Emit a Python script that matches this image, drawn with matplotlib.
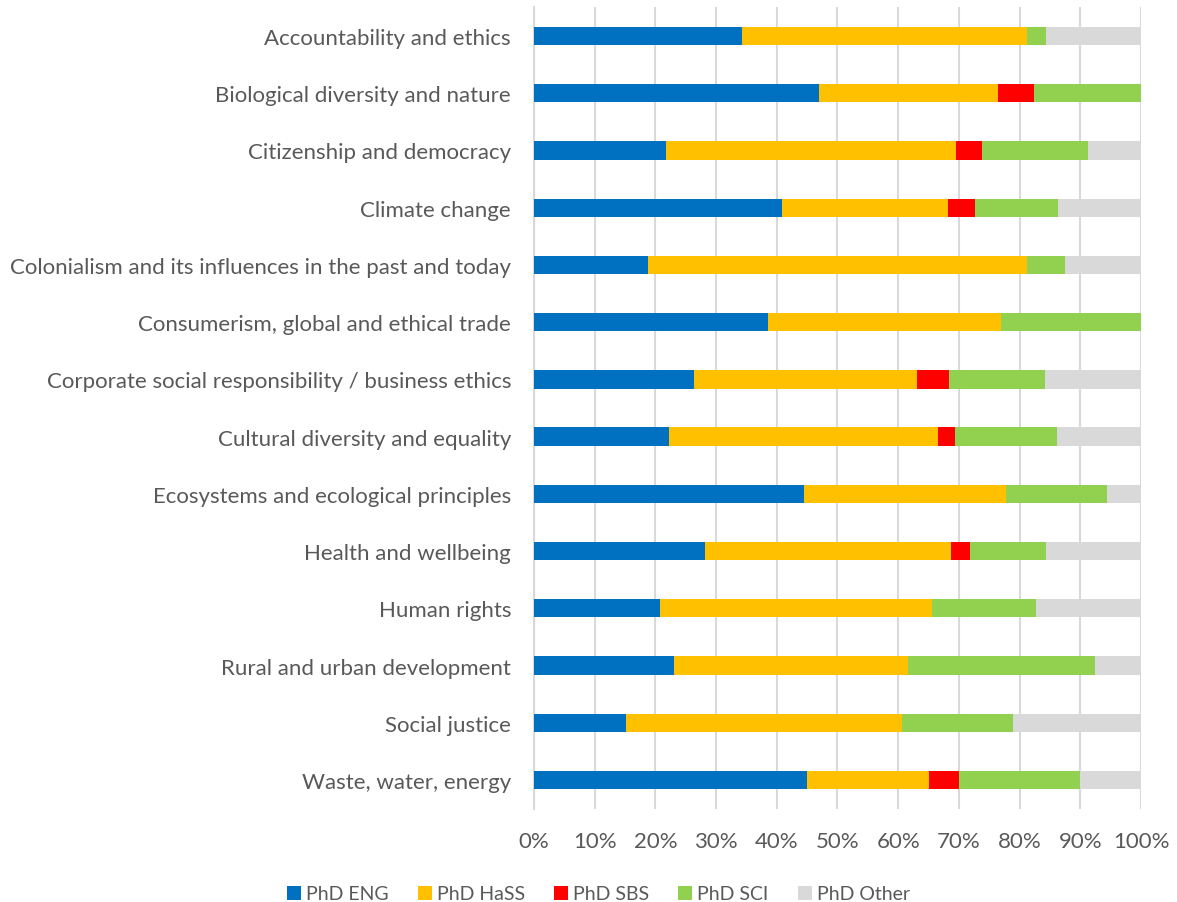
import matplotlib.pyplot as plt
from matplotlib.ticker import PercentFormatter
from matplotlib.patches import Patch

plt.rcParams['font.family'] = ['Lato', 'DejaVu Sans']

topics = [
    "Accountability and ethics",
    "Biological diversity and nature",
    "Citizenship and democracy",
    "Climate change",
    "Colonialism and its influences in the past and today",
    "Consumerism, global and ethical trade",
    "Corporate social responsibility / business ethics",
    "Cultural diversity and equality",
    "Ecosystems and ecological principles",
    "Health and wellbeing",
    "Human rights",
    "Rural and urban development",
    "Social justice",
    "Waste, water, energy",
]

# percentages per topic
phd_eng = [34.3, 47.0, 21.7, 40.9, 18.8, 38.5, 26.3, 22.2, 44.4, 28.1, 20.7, 23.1, 15.2, 45.0]
phd_hass = [47.0, 29.4, 47.8, 27.3, 62.5, 38.5, 36.8, 44.4, 33.3, 40.6, 44.8, 38.5, 45.5, 20.0]
phd_sbs = [0.0, 5.9, 4.3, 4.5, 0.0, 0.0, 5.3, 2.8, 0.0, 3.1, 0.0, 0.0, 0.0, 5.0]
phd_sci = [3.0, 17.7, 17.4, 13.6, 6.2, 23.0, 15.8, 16.7, 16.7, 12.5, 17.2, 30.8, 18.2, 20.0]
phd_other = [15.7, 0.0, 8.8, 13.7, 12.5, 0.0, 15.8, 13.9, 5.6, 15.7, 17.3, 7.6, 21.1, 10.0]

series = [
    ("PhD ENG", phd_eng, "#0070C0"),
    ("PhD HaSS", phd_hass, "#FFC000"),
    ("PhD SBS", phd_sbs, "#FF0000"),
    ("PhD SCI", phd_sci, "#92D050"),
    ("PhD Other", phd_other, "#D9D9D9"),
]

text_color = "#595959"
grid_color = "#D9D9D9"

fig = plt.figure(figsize=(11.77, 9.03), dpi=100)
ax = fig.add_axes([0.4537, 0.1034, 0.5157, 0.8873])

ypos = list(range(len(topics)))
left = [0.0] * len(topics)
for name, values, color in series:
    ax.barh(ypos, values, left=left, height=0.32, color=color, label=name, zorder=3)
    left = [a + b for a, b in zip(left, values)]

ax.set_xlim(0, 100)
ax.set_ylim(len(topics) - 0.5, -0.5)
ax.set_yticks(ypos)
ax.set_yticklabels(topics)
ax.set_xticks(range(0, 101, 10))
ax.xaxis.set_major_formatter(PercentFormatter(decimals=0))
ax.tick_params(axis="both", length=0, labelsize=16, colors=text_color)
ax.tick_params(axis="y", pad=16.5)
ax.tick_params(axis="x", pad=16)

ax.grid(axis="x", color=grid_color, linewidth=1.5, zorder=0)
for side in ["top", "right", "bottom"]:
    ax.spines[side].set_visible(False)
ax.spines["left"].set_color(grid_color)
ax.spines["left"].set_linewidth(1.5)

handles = [Patch(facecolor=c, label=n) for n, _, c in series]
fig.legend(handles=handles, loc="center", bbox_to_anchor=(0.5085, 0.009), ncol=5,
           frameon=False, fontsize=14, labelcolor=text_color,
           handlelength=0.72, handleheight=0.72, handletextpad=0.25, columnspacing=1.5)

fig.savefig("out.png", dpi=100)
